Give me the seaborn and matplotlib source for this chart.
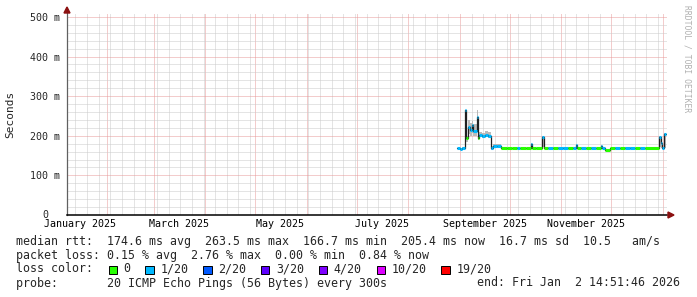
import numpy as np
import pandas as pd
import matplotlib
matplotlib.use("Agg")
import matplotlib.pyplot as plt
from matplotlib.patches import Rectangle, Polygon
from matplotlib.transforms import blended_transform_factory, offset_copy
import seaborn as sns

# ---------------- data ----------------
dates = [
    "2025-08-30", "2025-09-01", "2025-09-02 12:00", "2025-09-04", "2025-09-04 20:00",
    "2025-09-06", "2025-09-07", "2025-09-08", "2025-09-09", "2025-09-11",
    "2025-09-11 18:00", "2025-09-12 12:00", "2025-09-14", "2025-09-16", "2025-09-18",
    "2025-09-19 12:00", "2025-09-21", "2025-09-23", "2025-09-25 12:00", "2025-09-29",
    "2025-10-02", "2025-10-05", "2025-10-07", "2025-10-11", "2025-10-13 12:00",
    "2025-10-14 12:00", "2025-10-17", "2025-10-20 12:00", "2025-10-21 12:00", "2025-10-24",
    "2025-10-27", "2025-10-30", "2025-11-02", "2025-11-05", "2025-11-08",
    "2025-11-09 12:00", "2025-11-10 12:00", "2025-11-13", "2025-11-16", "2025-11-19",
    "2025-11-22", "2025-11-24 12:00", "2025-11-25 12:00", "2025-11-27", "2025-11-30",
    "2025-12-03", "2025-12-06", "2025-12-09", "2025-12-12", "2025-12-15",
    "2025-12-18", "2025-12-21", "2025-12-29 12:00", "2025-12-30 12:00", "2025-12-31 06:00",
    "2026-01-01 16:00",
]
median_ms = [
    168, 167, 168, 264, 194, 222, 214, 226, 212, 247, 195, 201, 199, 202, 200, 168, 173, 174, 168, 168,
    168, 168, 168, 168, 179, 168, 168, 198, 168, 168,
    169, 168, 168, 169, 168, 176, 168, 168, 168, 169,
    168, 173, 168, 164, 168, 168, 168, 168, 168, 168,
    168, 168, 198, 182, 168, 205,
]
lost_pings = [
    1, 1, 1, 1, 0, 1, 1, 1, 1, 1, 0, 1, 1, 1, 1, 1, 1, 1, 0, 0,
    0, 1, 0, 0, 1, 0, 0, 1, 0, 1,
    0, 1, 1, 0, 1, 1, 0, 1, 0, 1,
    0, 1, 1, 0, 0, 1, 0, 1, 1, 0,
    1, 0, 1, 1, 1, 1,
]
smoke_lo_ms = [
    166, 165, 166, 240, 185, 205, 200, 208, 200, 215, 190, 196, 194, 196, 194, 165, 168, 169, 166, 166,
    166, 166, 166, 166, 172, 166, 166, 172, 166, 166,
    167, 166, 166, 167, 166, 170, 166, 166, 166, 167,
    166, 169, 166, 162, 166, 166, 166, 166, 166, 166,
    166, 166, 172, 170, 166, 170,
]
smoke_hi_ms = [
    170, 170, 171, 266, 200, 240, 232, 238, 230, 266, 205, 210, 206, 212, 210, 174, 178, 179, 171, 170,
    170, 171, 170, 170, 182, 170, 170, 200, 170, 171,
    171, 171, 171, 171, 171, 178, 170, 171, 170, 172,
    170, 176, 171, 167, 170, 171, 170, 171, 171, 170,
    171, 170, 200, 190, 171, 207,
]
end_time = "2026-01-02 14:51"

loss_labels = ["0", "1/20", "2/20", "3/20", "4/20", "10/20", "19/20"]
loss_steps = [0, 1, 2, 3, 4, 10, 19]
loss_colors = ["#26ff00", "#00b8ff", "#0059ff", "#5e00ff", "#7e00ff", "#dd00ff", "#ff0000"]

y_ticks_ms = [0, 100, 200, 300, 400, 500]
y_tick_labels = ["0", "100 m", "200 m", "300 m", "400 m", "500 m"]
x_labels = ["January 2025", "March 2025", "May 2025", "July 2025", "September 2025", "November 2025"]
x_label_dates = ["2025-01-16", "2025-03-16", "2025-05-16", "2025-07-16", "2025-09-16", "2025-11-16"]

line_rtt = "median rtt:  174.6 ms avg  263.5 ms max  166.7 ms min  205.4 ms now  16.7 ms sd  10.5   am/s"
line_loss = "packet loss: 0.15 % avg  2.76 % max  0.00 % min  0.84 % now"
line_color = "loss color:"
line_probe = "probe:       20 ICMP Echo Pings (56 Bytes) every 300s"
line_end = "end: Fri Jan  2 14:51:46 2026"

# ---------------- frame ----------------
df = pd.DataFrame({
    "date": pd.to_datetime(dates, format="mixed"),
    "median": np.array(median_ms) / 1000.0,
    "lost": lost_pings,
    "lo": np.array(smoke_lo_ms) / 1000.0,
    "hi": np.array(smoke_hi_ms) / 1000.0,
})
df["next"] = list(df["date"].iloc[1:]) + [pd.Timestamp(end_time)]
ext = pd.concat([df, pd.DataFrame({"date": [pd.Timestamp(end_time)],
                                   "median": [df["median"].iloc[-1]],
                                   "lo": [df["lo"].iloc[-1]],
                                   "hi": [df["hi"].iloc[-1]]})], ignore_index=True)

def loss_color(n):
    idx = max(i for i, s in enumerate(loss_steps) if s <= n)
    return loss_colors[idx]

# ---------------- style ----------------
sns.set_style("white")
plt.rcParams["font.family"] = ["DejaVu Sans Mono", "DejaVu Sans"]

W, H = 697, 297
fig = plt.figure(figsize=(W / 100, H / 100), dpi=100)
fig.patch.set_facecolor("white")
ax = fig.add_axes([67 / W, (H - 215) / H, 600 / W, 202 / H])
ax.set_facecolor("white")

ax.set_xlim(pd.Timestamp("2025-01-08"), pd.Timestamp("2026-01-03 09:30"))
ax.set_ylim(0, 0.51)

# grid
month_starts = pd.date_range("2025-02-01", "2026-01-01", freq="MS")
mondays = pd.date_range("2025-01-13", "2026-01-02", freq="W-MON")
ax.set_xticks(month_starts)
ax.set_xticks(mondays, minor=True)
ax.set_xticklabels([])
ax.set_yticks(np.array(y_ticks_ms) / 1000.0)
ax.set_yticks(np.arange(0, 0.51, 0.02), minor=True)
ax.set_yticklabels(y_tick_labels, fontsize=7.2, family="DejaVu Sans Mono")
ax.grid(which="minor", color="#cbcbcb", linestyle=(0, (1, 1)), linewidth=0.72)
ax.grid(which="major", color="#e89a9a", linestyle=(0, (1, 1)), linewidth=0.72)
ax.set_axisbelow(True)
ax.tick_params(axis="x", which="both", length=0)
ax.tick_params(axis="y", which="major", length=3, width=0.72, color="#d09090", pad=2)
ax.tick_params(axis="y", which="minor", length=0)

# shift the "0" label to line up with the digits of the other labels
zero_lab = ax.get_yticklabels()[0]
zero_lab.set_transform(offset_copy(zero_lab.get_transform(), fig=fig, x=-12, y=1, units="dots"))

for s in ["top", "right"]:
    ax.spines[s].set_visible(False)
ax.spines["left"].set_color("#606060")
ax.spines["left"].set_linewidth(0.9)
ax.spines["bottom"].set_color("black")
ax.spines["bottom"].set_linewidth(1.1)

# x labels at mid month
tr = offset_copy(blended_transform_factory(ax.transData, ax.transAxes), fig=fig, y=-4, units="dots")
for lab, d in zip(x_labels, x_label_dates):
    ax.text(pd.Timestamp(d), 0, lab, transform=tr, ha="center", va="top",
            fontsize=7.2, family="DejaVu Sans Mono", color="black")

# ---------------- data marks ----------------
ax.fill_between(ext["date"], ext["lo"], ext["hi"], step="post", color="#b0b0b0", linewidth=0, alpha=0.85)
sns.lineplot(data=ext, x="date", y="median", estimator=None, drawstyle="steps-post",
             color="#202020", linewidth=0.9, ax=ax, legend=False)
ax.hlines(df["median"], df["date"], df["next"], colors=[loss_color(n) for n in df["lost"]],
          linewidth=2.2, zorder=3)
ax.set_xlabel("")
ax.set_ylabel("")

# arrows
fig.patches.append(Polygon([[64 / W, (H - 13) / H], [70 / W, (H - 13) / H], [67 / W, (H - 7) / H]],
                           closed=True, transform=fig.transFigure, color="#8b1010"))
fig.patches.append(Polygon([[668 / W, (H - 212) / H], [668 / W, (H - 218) / H], [674 / W, (H - 215) / H]],
                           closed=True, transform=fig.transFigure, color="#8b1010"))

# axis title and watermark
fig.text(10 / W, 1 - 114 / H, "Seconds", rotation=90, ha="center", va="center",
         fontsize=8, family="DejaVu Sans Mono")
fig.text(687 / W, 1 - 5 / H, "RRDTOOL / TOBI OETIKER", rotation=270, ha="center", va="top",
         fontsize=5.8, family="DejaVu Sans Mono", color="#b0b0b0")

# legend / stats text
fs = 8.4
fig.text(16 / W, 1 - 241 / H, line_rtt, fontsize=fs, va="center", family="DejaVu Sans Mono")
fig.text(16 / W, 1 - 255 / H, line_loss, fontsize=fs, va="center", family="DejaVu Sans Mono")
fig.text(16 / W, 1 - 269 / H, line_color, fontsize=fs, va="center", family="DejaVu Sans Mono")
fig.text(16 / W, 1 - 283 / H, line_probe, fontsize=fs, va="center", family="DejaVu Sans Mono")
fig.text(680 / W, 1 - 283 / H, line_end, fontsize=fs, va="center", ha="right", family="DejaVu Sans Mono")

bx = 108.7
for lab, col in zip(loss_labels, loss_colors):
    fig.patches.append(Rectangle((bx / W, 1 - 274 / H), 8.5 / W, 8.5 / H, transform=fig.transFigure,
                                 facecolor=col, edgecolor="black", linewidth=0.7))
    fig.text((bx + 15) / W, 1 - 269 / H, lab, fontsize=fs, va="center", family="DejaVu Sans Mono")
    bx += (4.2 + len(lab)) * 7.05

fig.savefig("out.png", dpi=100, facecolor="white")
